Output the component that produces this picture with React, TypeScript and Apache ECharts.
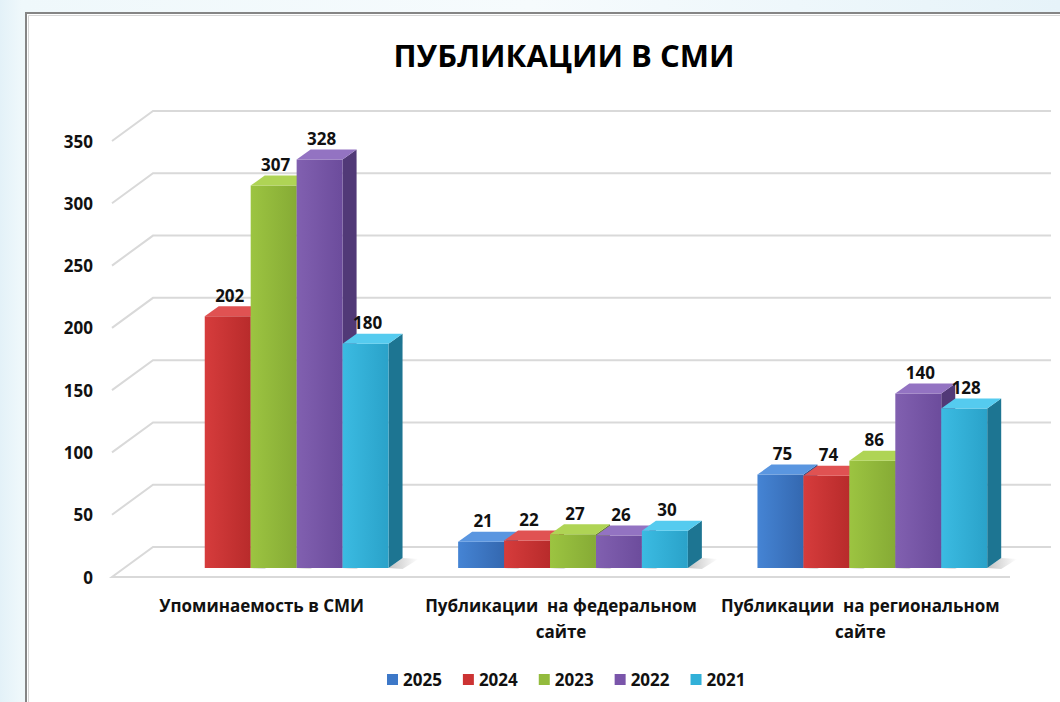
import React, { useEffect, useRef } from "react";
import * as echarts from "echarts";

const categories = [
  "Упоминаемость в СМИ",
  "Публикации  на федеральном\nсайте",
  "Публикации  на региональном\nсайте",
];
const years = ["2025", "2024", "2023", "2022", "2021"];
const v2025 = [null, 21, 75];
const v2024 = [202, 22, 74];
const v2023 = [307, 27, 86];
const v2022 = [328, 26, 140];
const v2021 = [180, 30, 128];
const yTicks = [0, 50, 100, 150, 200, 250, 300, 350];

const seriesValues = [v2025, v2024, v2023, v2022, v2021];

const palette = [
  { light: "#4584d4", dark: "#3468b0", top: "#5a96e0", side: "#264f8a", legend: "#3d78c8" },
  { light: "#d63c3c", dark: "#b82b2b", top: "#e05252", side: "#8c2222", legend: "#cc3333" },
  { light: "#9cc441", dark: "#86ab35", top: "#afd455", side: "#668426", legend: "#93bb3d" },
  { light: "#8160b0", dark: "#6c4c9c", top: "#9373c2", side: "#513977", legend: "#7a55aa" },
  { light: "#3bbbe2", dark: "#2aa2c9", top: "#55cbef", side: "#1d7592", legend: "#31b0d8" },
];

const FONT = '"Open Sans", "DejaVu Sans", sans-serif';
const DEPTH_X = 41;
const DEPTH_Y = 30;
const OFF_X = 12;
const OFF_Y = 9;
const DX = 14;
const DY = 10;

export default function App() {
  const ref = useRef<HTMLDivElement>(null);

  useEffect(() => {
    if (!ref.current) return;
    const chart = echarts.init(ref.current, undefined, { renderer: "svg" });

    const barSeries = years.map((year, s) => {
      const c = palette[s];
      return {
        name: year,
        type: "custom",
        z: 3,
        itemStyle: { color: c.legend },
        data: seriesValues[s].map((v, i) => [i, v == null ? "-" : v]),
        renderItem: (params: any, api: any) => {
          const v = api.value(1);
          if (v == null || isNaN(v)) return null;
          const idx = api.value(0);
          const base = api.coord([idx, 0]);
          const top = api.coord([idx, v]);
          const band = api.size([1, 0])[0];
          const barW = band * 0.1535;
          const cx = base[0] + OFF_X + (s - 2) * barW;
          const x0 = cx - barW / 2;
          const x1 = cx + barW / 2;
          const yb = base[1] - OFF_Y;
          const yt = top[1] - OFF_Y;
          return {
            type: "group",
            children: [
              {
                type: "polygon",
                z2: -1,
                shape: {
                  points: [
                    [x1 + DX, yb - DY],
                    [x1 + DX + 16, yb - DY + 1],
                    [x1 + 14, yb + 1],
                    [x1, yb],
                  ],
                },
                style: {
                  fill: new echarts.graphic.LinearGradient(0, 0, 1, 0, [
                    { offset: 0, color: "rgba(120,120,120,0.45)" },
                    { offset: 1, color: "rgba(120,120,120,0)" },
                  ]),
                },
              },
              {
                type: "polygon",
                shape: {
                  points: [
                    [x1, yt],
                    [x1 + DX, yt - DY],
                    [x1 + DX, yb - DY],
                    [x1, yb],
                  ],
                },
                style: { fill: c.side },
              },
              {
                type: "rect",
                shape: { x: x0, y: yt, width: barW, height: yb - yt },
                style: {
                  fill: new echarts.graphic.LinearGradient(0, 0, 1, 0, [
                    { offset: 0, color: c.light },
                    { offset: 1, color: c.dark },
                  ]),
                },
              },
              {
                type: "polygon",
                shape: {
                  points: [
                    [x0, yt],
                    [x0 + DX, yt - DY],
                    [x1 + DX, yt - DY],
                    [x1, yt],
                  ],
                },
                style: { fill: c.top },
              },
              {
                type: "text",
                z2: 100,
                style: {
                  text: String(v),
                  x: cx + 2,
                  y: yt - 21,
                  align: "center",
                  verticalAlign: "middle",
                  fontFamily: FONT,
                  fontWeight: "bold",
                  fontSize: 17,
                  fill: "#111",
                },
              },
            ],
          };
        },
      };
    });

    const gridSeries = {
      name: "grid",
      type: "custom",
      z: 1,
      silent: true,
      data: yTicks.map((t) => [0, t]),
      renderItem: (params: any, api: any) => {
        const v = api.value(1);
        const cs = params.coordSys;
        const y = api.coord([0, v])[1];
        const xl = cs.x;
        const xr = cs.x + cs.width;
        const pts =
          v === 0
            ? [
                [xr, y],
                [xl, y],
                [xl + DEPTH_X, y - DEPTH_Y],
                [xr + DEPTH_X, y - DEPTH_Y],
              ]
            : [
                [xl, y],
                [xl + DEPTH_X, y - DEPTH_Y],
                [xr + DEPTH_X, y - DEPTH_Y],
              ];
        return {
          type: "polyline",
          shape: { points: pts },
          style: { stroke: "#d9d9d9", lineWidth: 2, fill: null },
        };
      },
    };

    chart.setOption({
      animation: false,
      backgroundColor: "transparent",
      graphic: [
        {
          type: "rect",
          z: -10,
          silent: true,
          shape: { x: 26, y: 13, width: 1100, height: 800 },
          style: { fill: "#ffffff", stroke: "#858585", lineWidth: 2 },
        },
        {
          type: "rect",
          z: -9,
          silent: true,
          shape: { x: 28.5, y: 15.5, width: 1100, height: 800 },
          style: { fill: null, stroke: "#d6d6d6", lineWidth: 1 },
        },
        {
          type: "text",
          z: 10,
          x: 564,
          y: 55,
          style: {
            text: "ПУБЛИКАЦИИ В СМИ",
            align: "center",
            verticalAlign: "middle",
            fontFamily: FONT,
            fontWeight: "bold",
            fontSize: 31,
            fill: "#000",
          },
        },
      ],
      legend: {
        data: years,
        left: 382,
        top: 666,
        icon: "rect",
        itemWidth: 11,
        itemHeight: 11,
        itemGap: 21,
        textStyle: {
          fontFamily: FONT,
          fontWeight: "bold",
          fontSize: 17,
          color: "#111",
        },
      },
      grid: { left: 112, right: 50, top: 141, bottom: 125, containLabel: false },
      xAxis: {
        type: "category",
        data: categories,
        axisLine: { show: false },
        axisTick: { show: false },
        splitLine: { show: false },
        axisLabel: {
          margin: 15,
          interval: 0,
          verticalAlign: "top",
          lineHeight: 26,
          fontFamily: FONT,
          fontWeight: "bold",
          fontSize: 17,
          color: "#111",
        },
      },
      yAxis: {
        type: "value",
        min: 0,
        max: 350,
        interval: 50,
        axisLine: { show: false },
        axisTick: { show: false },
        splitLine: { show: false },
        axisLabel: {
          margin: 19,
          fontFamily: FONT,
          fontWeight: "bold",
          fontSize: 17,
          color: "#111",
        },
      },
      series: [gridSeries, ...barSeries],
    });

    return () => chart.dispose();
  }, []);

  return (
    <div
      style={{
        position: "fixed",
        left: 0,
        top: 0,
        width: 1060,
        height: 702,
        background:
          "linear-gradient(90deg, #e3f1f8 0%, #eff8fb 2%, #f6fbfd 50%, #e6f3f9 100%)",
      }}
    >
      <div ref={ref} style={{ width: 1060, height: 702 }} />
    </div>
  );
}
